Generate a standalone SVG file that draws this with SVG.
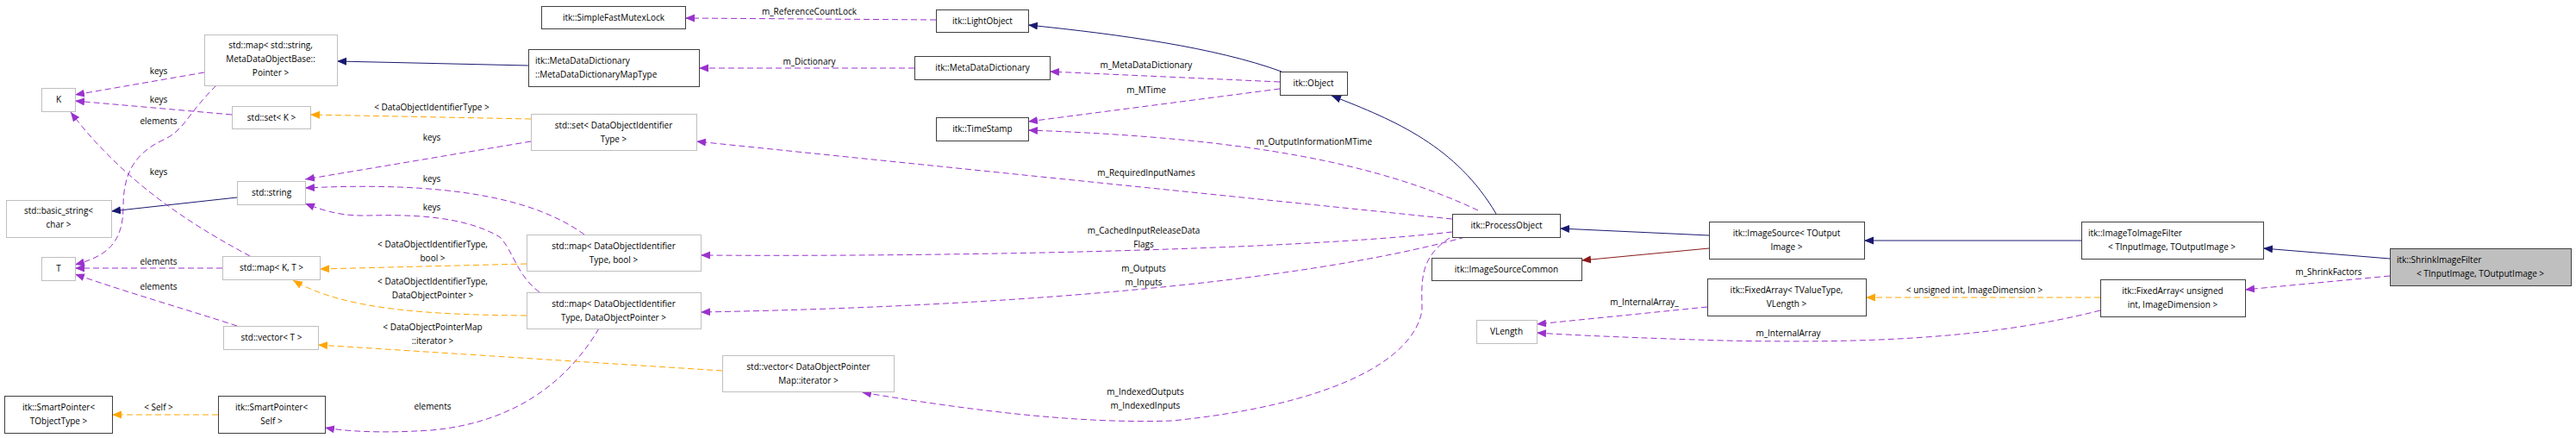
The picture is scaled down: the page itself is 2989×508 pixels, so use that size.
<svg xmlns="http://www.w3.org/2000/svg" width="2989" height="508" viewBox="0 0 2989 508">
<style>
text{font-family:"Open Sans","DejaVu Sans",sans-serif;font-size:10px;fill:#000;text-anchor:middle}
.n rect{fill:#fff;stroke:#404040;stroke-width:1}
.g rect{fill:#fff;stroke:#bfbfbf;stroke-width:1}
.s rect{fill:#bfbfbf;stroke:#404040}
.e path{fill:none;stroke-width:1}
.b{stroke:#191970}
.r{stroke:#8b1a1a}
.p{stroke:#9a32cd;stroke-dasharray:7,4}
.o{stroke:#ffa500;stroke-dasharray:7,4}
.st{text-anchor:start}
</style>
<defs>
<marker id="mb" markerUnits="userSpaceOnUse" markerWidth="12" markerHeight="10" refX="11" refY="4.5" orient="auto"><path d="M0,0L11,4.5L0,9z" fill="#191970"/></marker>
<marker id="mr" markerUnits="userSpaceOnUse" markerWidth="12" markerHeight="10" refX="11" refY="4.5" orient="auto"><path d="M0,0L11,4.5L0,9z" fill="#8b1a1a"/></marker>
<marker id="mp" markerUnits="userSpaceOnUse" markerWidth="12" markerHeight="10" refX="11" refY="4.5" orient="auto"><path d="M0,0L11,4.5L0,9z" fill="#9a32cd"/></marker>
<marker id="mo" markerUnits="userSpaceOnUse" markerWidth="12" markerHeight="10" refX="11" refY="4.5" orient="auto"><path d="M0,0L11,4.5L0,9z" fill="#ffa500"/></marker>
</defs>
<rect width="2989" height="508" fill="#fff"/>
<g id="edges" class="e">
<path class="b" marker-end="url(#mb)" d="M613,76L391,71"/>
<path class="b" marker-end="url(#mb)" d="M1487,83C1410,55 1300,40 1193,29"/>
<path class="b" marker-end="url(#mb)" d="M1736,248C1690,170 1620,140 1545,111"/>
<path class="b" marker-end="url(#mb)" d="M1983,273L1810,265"/>
<path class="b" marker-end="url(#mb)" d="M2415,279L2163,279"/>
<path class="b" marker-end="url(#mb)" d="M2773,300L2626,288"/>
<path class="b" marker-end="url(#mb)" d="M275,229L129,245"/>
<path class="r" marker-end="url(#mr)" d="M1983,288L1835,302"/>
<path class="p" marker-end="url(#mp)" d="M237,84L87,110"/>
<path class="p" marker-end="url(#mp)" d="M269,133L87,117"/>
<path class="p" marker-end="url(#mp)" d="M251,99C215,135 215,150 190,162C150,180 143,210 143,240C143,285 120,298 87,307"/>
<path class="p" marker-end="url(#mp)" d="M290,297C240,270 150,220 82,130"/>
<path class="p" marker-end="url(#mp)" d="M258,311L87,311"/>
<path class="p" marker-end="url(#mp)" d="M275,378C220,360 150,340 87,318"/>
<path class="p" marker-end="url(#mp)" d="M616,164L354,208"/>
<path class="p" marker-end="url(#mp)" d="M678,272C620,230 520,210 354,218"/>
<path class="p" marker-end="url(#mp)" d="M626,339C600,320 595,290 580,275C530,245 450,250 420,250C390,250 370,242 354,236"/>
<path class="p" marker-end="url(#mp)" d="M1086,23L795,21"/>
<path class="p" marker-end="url(#mp)" d="M1061,79L811,79"/>
<path class="p" marker-end="url(#mp)" d="M1485,95L1218,83"/>
<path class="p" marker-end="url(#mp)" d="M1485,103L1193,141"/>
<path class="p" marker-end="url(#mp)" d="M1715,244C1600,190 1450,160 1193,151"/>
<path class="p" marker-end="url(#mp)" d="M1685,254L808,164"/>
<path class="p" marker-end="url(#mp)" d="M1685,269C1500,290 1100,298 813,296"/>
<path class="p" marker-end="url(#mp)" d="M1700,275C1500,330 1150,356 813,362"/>
<path class="p" marker-end="url(#mp)" d="M1682,276C1645,300 1650,330 1650,360C1640,420 1540,470 1360,488C1250,492 1120,475 1000,455"/>
<path class="p" marker-end="url(#mp)" d="M695,381C660,440 600,490 500,499C440,503 400,500 377,496"/>
<path class="p" marker-end="url(#mp)" d="M1981,356L1783,376"/>
<path class="p" marker-end="url(#mp)" d="M2437,360C2300,395 2150,398 2000,395C1900,392 1830,389 1783,386"/>
<path class="p" marker-end="url(#mp)" d="M2773,320L2605,336"/>
<path class="o" marker-end="url(#mo)" d="M616,138L360,133"/>
<path class="o" marker-end="url(#mo)" d="M611,306L371,312"/>
<path class="o" marker-end="url(#mo)" d="M611,366C500,365 400,360 340,325"/>
<path class="o" marker-end="url(#mo)" d="M838,430L369,400"/>
<path class="o" marker-end="url(#mo)" d="M253,481L130,481"/>
<path class="o" marker-end="url(#mo)" d="M2437,345L2165,345"/>
</g>
<g id="labels">
<text x="184" y="86">keys</text>
<text x="184" y="119">keys</text>
<text x="184" y="144">elements</text>
<text x="184" y="203">keys</text>
<text x="184" y="307">elements</text>
<text x="184" y="336">elements</text>
<text x="184" y="476">&lt; Self &gt;</text>
<text x="501" y="128">&lt; DataObjectIdentifierType &gt;</text>
<text x="501" y="163">keys</text>
<text x="501" y="211">keys</text>
<text x="501" y="244">keys</text>
<text x="502" y="287">&lt; DataObjectIdentifierType,</text>
<text x="502" y="303">bool &gt;</text>
<text x="502" y="330">&lt; DataObjectIdentifierType,</text>
<text x="502" y="346">DataObjectPointer &gt;</text>
<text x="502" y="383">&lt; DataObjectPointerMap</text>
<text x="502" y="399">::iterator &gt;</text>
<text x="502" y="475">elements</text>
<text x="939" y="17">m_ReferenceCountLock</text>
<text x="939" y="75">m_Dictionary</text>
<text x="1330" y="79">m_MetaDataDictionary</text>
<text x="1330" y="108">m_MTime</text>
<text x="1525" y="168">m_OutputInformationMTime</text>
<text x="1330" y="204">m_RequiredInputNames</text>
<text x="1327" y="271">m_CachedInputReleaseData</text>
<text x="1327" y="287">Flags</text>
<text x="1327" y="315">m_Outputs</text>
<text x="1327" y="331">m_Inputs</text>
<text x="1329" y="458">m_IndexedOutputs</text>
<text x="1329" y="474">m_IndexedInputs</text>
<text x="1908" y="354">m_InternalArray_</text>
<text x="2075" y="390">m_InternalArray</text>
<text x="2291" y="340">&lt; unsigned int, ImageDimension &gt;</text>
<text x="2702" y="319">m_ShrinkFactors</text>
</g>
<g id="n_mapstr" class="g"><rect x="237.5" y="40.5" width="154" height="59"/><text x="314" y="56">std::map&lt; std::string,</text><text x="314" y="72">MetaDataObjectBase::</text><text x="314" y="88">Pointer &gt;</text></g>
<g id="n_K" class="g"><rect x="48.5" y="102.5" width="39" height="27"/><text x="68" y="119">K</text></g>
<g id="n_setK" class="g"><rect x="269.5" y="123.5" width="91" height="26"/><text x="315" y="140">std::set&lt; K &gt;</text></g>
<g id="n_string" class="g"><rect x="275.5" y="210.5" width="79" height="27"/><text x="315" y="227">std::string</text></g>
<g id="n_basic" class="g"><rect x="7.5" y="232.5" width="122" height="43"/><text x="68" y="248">std::basic_string&lt;</text><text x="68" y="264">char &gt;</text></g>
<g id="n_T" class="g"><rect x="48.5" y="298.5" width="39" height="27"/><text x="68" y="315">T</text></g>
<g id="n_mapKT" class="g"><rect x="258.5" y="297.5" width="113" height="27"/><text x="315" y="314">std::map&lt; K, T &gt;</text></g>
<g id="n_vecT" class="g"><rect x="259.5" y="378.5" width="110" height="27"/><text x="315" y="395">std::vector&lt; T &gt;</text></g>
<g id="n_spT" class="n"><rect x="5.5" y="459.5" width="125" height="43"/><text x="68" y="476">itk::SmartPointer&lt;</text><text x="68" y="492">TObjectType &gt;</text></g>
<g id="n_spSelf" class="n"><rect x="253.5" y="459.5" width="124" height="43"/><text x="315" y="476">itk::SmartPointer&lt;</text><text x="315" y="492">Self &gt;</text></g>
<g id="n_mutex" class="n"><rect x="628.5" y="7.5" width="167" height="26"/><text x="712" y="24">itk::SimpleFastMutexLock</text></g>
<g id="n_mdmt" class="n"><rect x="613.5" y="57.5" width="198" height="43"/><text class="st" x="621" y="74">itk::MetaDataDictionary</text><text class="st" x="621" y="90">::MetaDataDictionaryMapType</text></g>
<g id="n_setD" class="g"><rect x="616.5" y="132.5" width="192" height="42"/><text x="712" y="149">std::set&lt; DataObjectIdentifier</text><text x="712" y="165">Type &gt;</text></g>
<g id="n_mapB" class="g"><rect x="611.5" y="272.5" width="202" height="42"/><text x="712" y="289">std::map&lt; DataObjectIdentifier</text><text x="712" y="305">Type, bool &gt;</text></g>
<g id="n_mapP" class="g"><rect x="611.5" y="339.5" width="202" height="42"/><text x="712" y="356">std::map&lt; DataObjectIdentifier</text><text x="712" y="372">Type, DataObjectPointer &gt;</text></g>
<g id="n_vecI" class="g"><rect x="838.5" y="412.5" width="199" height="42"/><text x="938" y="429">std::vector&lt; DataObjectPointer</text><text x="938" y="445">Map::iterator &gt;</text></g>
<g id="n_light" class="n"><rect x="1086.5" y="11.5" width="107" height="26"/><text x="1140" y="28">itk::LightObject</text></g>
<g id="n_mdd" class="n"><rect x="1061.5" y="65.5" width="157" height="27"/><text x="1140" y="82">itk::MetaDataDictionary</text></g>
<g id="n_ts" class="n"><rect x="1086.5" y="136.5" width="107" height="27"/><text x="1140" y="153">itk::TimeStamp</text></g>
<g id="n_obj" class="n"><rect x="1485.5" y="83.5" width="78" height="27"/><text x="1524" y="100">itk::Object</text></g>
<g id="n_po" class="n"><rect x="1685.5" y="248.5" width="125" height="27"/><text x="1748" y="265">itk::ProcessObject</text></g>
<g id="n_isc" class="n"><rect x="1661.5" y="299.5" width="174" height="26"/><text x="1748" y="316">itk::ImageSourceCommon</text></g>
<g id="n_vlen" class="g"><rect x="1713.5" y="371.5" width="70" height="27"/><text x="1748" y="388">VLength</text></g>
<g id="n_is" class="n"><rect x="1983.5" y="257.5" width="180" height="43"/><text x="2073" y="274">itk::ImageSource&lt; TOutput</text><text x="2073" y="290">Image &gt;</text></g>
<g id="n_fa1" class="n"><rect x="1981.5" y="323.5" width="184" height="43"/><text x="2073" y="340">itk::FixedArray&lt; TValueType,</text><text x="2073" y="356">VLength &gt;</text></g>
<g id="n_itif" class="n"><rect x="2415.5" y="257.5" width="211" height="43"/><text class="st" x="2423" y="274">itk::ImageToImageFilter</text><text x="2520" y="290">&lt; TInputImage, TOutputImage &gt;</text></g>
<g id="n_fa2" class="n"><rect x="2437.5" y="324.5" width="168" height="43"/><text x="2521" y="341">itk::FixedArray&lt; unsigned</text><text x="2521" y="357">int, ImageDimension &gt;</text></g>
<g id="n_shrink" class="s"><rect x="2773.5" y="288.5" width="210" height="43"/><text class="st" x="2781" y="305">itk::ShrinkImageFilter</text><text x="2878" y="321">&lt; TInputImage, TOutputImage &gt;</text></g>
</svg>
